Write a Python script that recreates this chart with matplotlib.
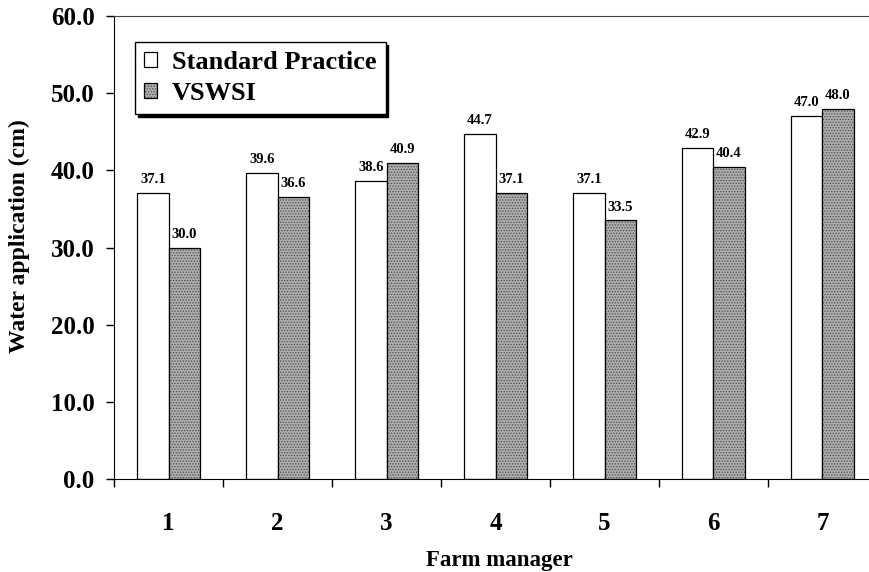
import numpy as np
import matplotlib
matplotlib.use("Agg")
import matplotlib.pyplot as plt
from matplotlib.ticker import FixedLocator

plt.rcParams['font.family'] = ['Liberation Serif', 'DejaVu Serif']
plt.rcParams['font.weight'] = 'bold'
plt.rcParams['axes.labelweight'] = 'bold'
plt.rcParams['hatch.linewidth'] = 0.6

# water applied per farm manager (cm)
managers = ['1', '2', '3', '4', '5', '6', '7']
standard = [37.1, 39.6, 38.6, 44.7, 37.1, 42.9, 47.0]
vswsi = [30.0, 36.6, 40.9, 37.1, 33.5, 40.4, 48.0]

fig = plt.figure(figsize=(8.69, 5.72), dpi=100)
ax = fig.add_axes([0.1312, 0.1626, 0.878, 0.8094])

x = np.arange(1, len(managers) + 1)
w = 0.285
b1 = ax.bar(x - w / 2, standard, w, color='white', edgecolor='black',
            linewidth=0.9, label='Standard Practice')
b2 = ax.bar(x + w / 2, vswsi, w, color='#adadad', edgecolor='black',
            linewidth=0.9, hatch='......', label='VSWSI')
for r in b2:
    r._hatch_color = (0.3, 0.3, 0.3, 1.0)

for bars, vals in ((b1, standard), (b2, vswsi)):
    for r, v in zip(bars, vals):
        ax.text(r.get_x() + r.get_width() / 2, v + 0.9, f'{v:.1f}',
                ha='center', va='bottom', fontsize=10.5, fontweight='bold')

ax.set_xlim(0.5, 7.5)
ax.set_ylim(0, 60)
ax.set_yticks(np.arange(0, 61, 10))
ax.set_yticklabels([f'{v:.1f}' for v in np.arange(0, 61, 10)], fontsize=18)
ax.set_xticks(x)
ax.set_xticklabels(managers, fontsize=18)
ax.tick_params(axis='x', which='major', length=0, pad=24)
ax.xaxis.set_minor_locator(FixedLocator(np.arange(0.5, 7.6, 1)))
ax.tick_params(axis='x', which='minor', length=6, width=1, direction='out')
ax.tick_params(axis='y', length=5.5, width=1, direction='out', pad=8.5)

ax.spines['right'].set_visible(False)
ax.spines['top'].set_color('#444444')

ax.set_ylabel('Water application (cm)', fontsize=17)
ax.yaxis.set_label_coords(-0.11, 0.525)
ax.set_xlabel('Farm manager', fontsize=16.5)
ax.xaxis.set_label_coords(0.505, -0.153)

leg = ax.legend(loc='upper left', bbox_to_anchor=(0.0275, 0.944), fontsize=19,
                frameon=True, fancybox=False, shadow={'color': 'black', 'alpha': 1},
                handlelength=0.5, handleheight=0.5, handletextpad=0.55,
                borderpad=0.35, labelspacing=0.3, borderaxespad=0)
leg.get_frame().set_edgecolor('black')
leg.get_frame().set_linewidth(1)

fig.savefig('out.png', dpi=100)
